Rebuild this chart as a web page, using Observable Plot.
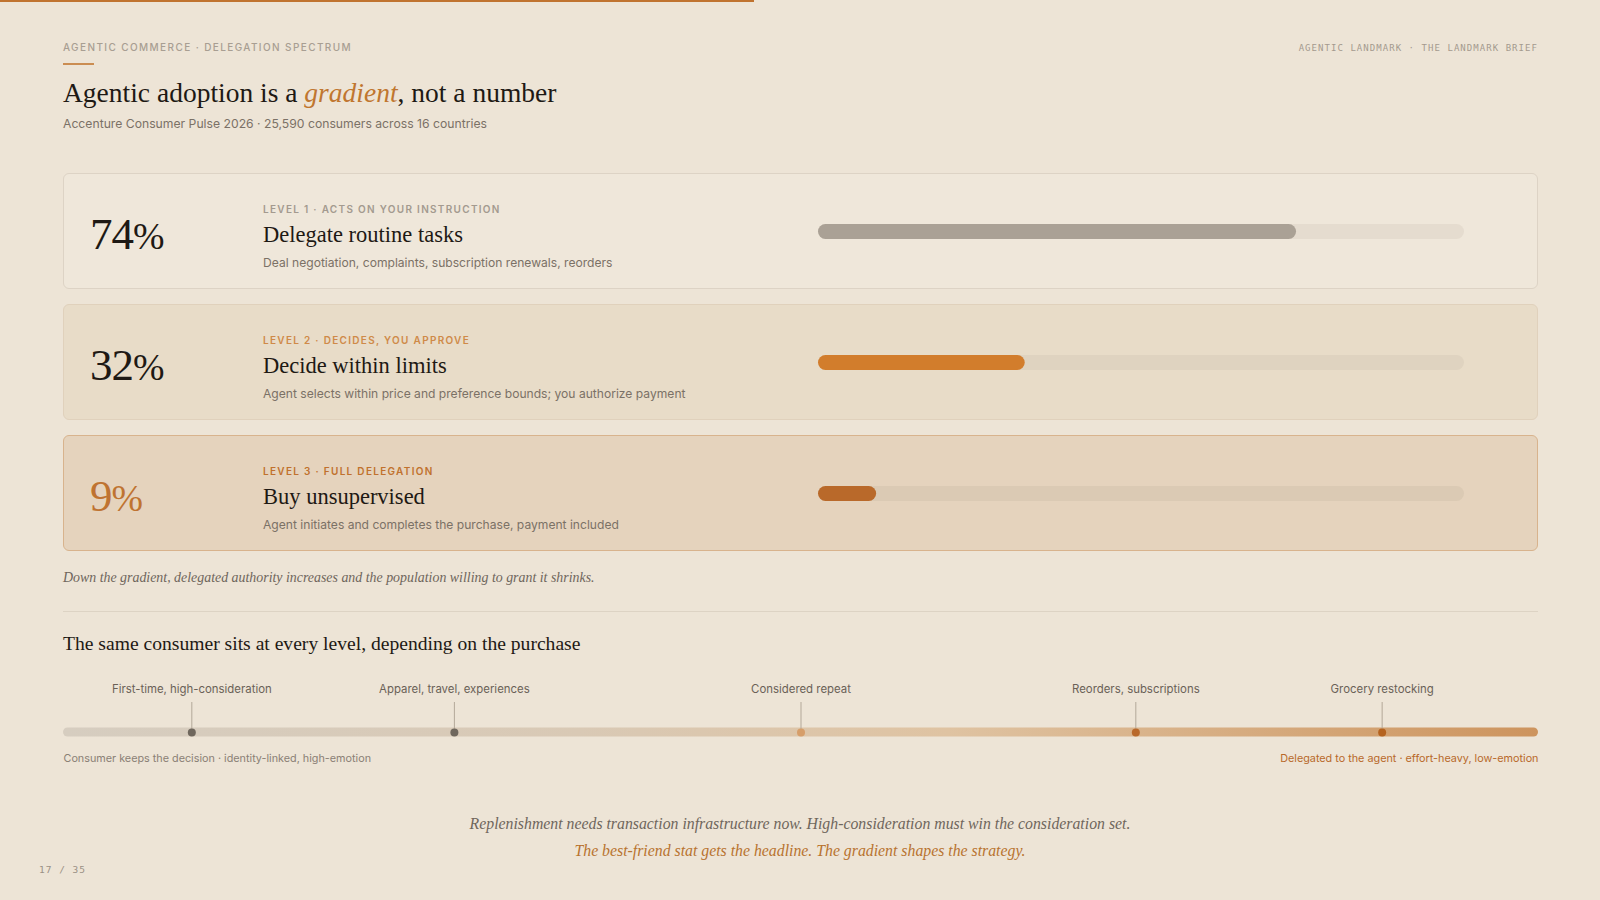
<!DOCTYPE html>
<html><head><meta charset="utf-8">
<script src="https://cdn.jsdelivr.net/npm/d3@7"></script>
<script src="https://cdn.jsdelivr.net/npm/@observablehq/plot@0.6"></script>
<style>
html,body{margin:0;padding:0;}
body{width:1600px;height:900px;background:#ede4d6;position:relative;overflow:hidden;font-family:Inter,"Noto Sans",sans-serif;}
.abs{position:absolute;white-space:nowrap;}
.topbar{left:0;top:0;width:754px;height:2px;background:#c0732f;}
.eyebrow{left:63px;top:41px;font-size:10px;letter-spacing:1.4px;font-weight:500;color:#a89e92;line-height:12px}
.rule{left:63px;top:63px;width:31px;height:2px;background:#cb8d52}
.title{left:63px;top:75px;font-family:"Liberation Serif",serif;font-size:27.5px;color:#1e1914;line-height:36px}
.title em{color:#c0762f}
.sub{left:63px;top:116px;font-size:12.2px;color:#7b7166;line-height:16px}
.brand{right:62px;top:42px;font-family:"DejaVu Sans Mono",monospace;font-size:9px;letter-spacing:1.05px;color:#a49a8e;line-height:12px}
.card{position:absolute;left:63px;width:1475px;height:116px;box-sizing:border-box;border:1px solid;border-radius:6px;}
.num{position:absolute;left:26px;top:35px;font-family:"Liberation Serif",serif;font-size:45px;letter-spacing:-1px;line-height:51px;white-space:nowrap}
.num .pct{font-size:0.84em;letter-spacing:0}
.tag{position:absolute;left:199px;top:29px;font-size:10px;letter-spacing:1.3px;font-weight:600;line-height:12px;white-space:nowrap}
.head{position:absolute;left:199px;top:47px;font-family:"Liberation Serif",serif;font-size:22.5px;color:#1e1914;line-height:28px;white-space:nowrap}
.desc{position:absolute;left:199px;top:81px;font-size:12.1px;color:#7b7166;line-height:16px;white-space:nowrap}
.bar{position:absolute;left:754px;top:50px;}
.caption{left:63px;top:569px;font-family:"Liberation Serif",serif;font-style:italic;font-size:13.9px;color:#6f665c;line-height:18px}
.divider{left:63px;top:611px;width:1475px;height:1px;background:#ddd3c4}
.section{left:63px;top:632px;font-family:"Liberation Serif",serif;font-size:19.6px;color:#1e1914;line-height:24px}
.spec{left:0;top:672px}
.close1{left:0;width:1600px;text-align:center;top:814px;font-family:"Liberation Serif",serif;font-style:italic;font-size:15.8px;color:#6f665c;line-height:20px}
.close2{left:0;width:1600px;text-align:center;top:841px;font-family:"Liberation Serif",serif;font-style:italic;font-size:15.8px;color:#b8732f;line-height:20px}
.page{left:39px;top:864px;font-family:"DejaVu Sans Mono",monospace;font-size:9.5px;letter-spacing:1px;color:#9a9085;line-height:12px}
</style>
</head>
<body>
<script>
// ---- data ----
const levelTags = ["LEVEL 1 · ACTS ON YOUR INSTRUCTION", "LEVEL 2 · DECIDES, YOU APPROVE", "LEVEL 3 · FULL DELEGATION"];
const levelTitles = ["Delegate routine tasks", "Decide within limits", "Buy unsupervised"];
const levelDescs = [
  "Deal negotiation, complaints, subscription renewals, reorders",
  "Agent selects within price and preference bounds; you authorize payment",
  "Agent initiates and completes the purchase, payment included"
];
const levelShares = [74, 32, 9];
const shareMax = 100;

const purchaseTypes = ["First-time, high-consideration", "Apparel, travel, experiences", "Considered repeat", "Reorders, subscriptions", "Grocery restocking"];
const delegationPosition = [8.7, 26.5, 50, 72.7, 89.4];
const spectrumEnds = ["Consumer keeps the decision · identity-linked, high-emotion", "Delegated to the agent · effort-heavy, low-emotion"];

// ---- styles ----
const cardBg = ["#efe7da", "#e8dcc8", "#e5d3bd"];
const cardBorder = ["#ddd3c5", "#e0d1bc", "#d8b38d"];
const numColor = ["#1e1914", "#1e1914", "#bf7331"];
const tagColor = ["#a39a8f", "#cf8a48", "#c0712d"];
const trackColor = ["#e5dccf", "#dfd3c0", "#dbcab4"];
const barColor = ["#aaa195", "#d27d2c", "#b9692a"];
const dotColor = ["#6f675d", "#6f675d", "#d69e6a", "#b9692b", "#b5631f"];

function el(tag, cls, html, parent) {
  const e = document.createElement(tag);
  if (cls) e.className = cls;
  if (html != null) e.innerHTML = html;
  (parent || document.body).appendChild(e);
  return e;
}

el("div", "abs topbar");
el("div", "abs eyebrow", "AGENTIC COMMERCE · DELEGATION SPECTRUM");
el("div", "abs rule");
el("div", "abs title", "Agentic adoption is a <em>gradient</em>, not a number");
el("div", "abs sub", "Accenture Consumer Pulse 2026 · 25,590 consumers across 16 countries");
el("div", "abs brand", "AGENTIC LANDMARK · THE LANDMARK BRIEF");

const cardTops = [173, 304, 435];
levelShares.forEach((share, i) => {
  const card = el("div", "card");
  card.style.top = cardTops[i] + "px";
  card.style.background = cardBg[i];
  card.style.borderColor = cardBorder[i];
  const n = el("div", "num", share + '<span class="pct">%</span>', card);
  n.style.color = numColor[i];
  const t = el("div", "tag", levelTags[i], card);
  t.style.color = tagColor[i];
  el("div", "head", levelTitles[i], card);
  el("div", "desc", levelDescs[i], card);
  const holder = el("div", "bar", null, card);
  const p = Plot.plot({
    width: 646, height: 15, margin: 0,
    x: {domain: [0, shareMax], axis: null},
    style: {background: "transparent", overflow: "visible"},
    marks: [
      Plot.barX([shareMax], {x1: 0, x2: d => d, fill: trackColor[i], rx: 7.5}),
      Plot.barX([share], {x1: 0, x2: d => d, fill: barColor[i], rx: 7.5})
    ]
  });
  holder.appendChild(p);
});

el("div", "abs caption", "Down the gradient, delegated authority increases and the population willing to grant it shrinks.");
el("div", "abs divider");
el("div", "abs section", "The same consumer sits at every level, depending on the purchase");

const points = purchaseTypes.map((name, i) => ({name, pos: delegationPosition[i], color: dotColor[i]}));
const spec = Plot.plot({
  width: 1600, height: 120,
  marginLeft: 63, marginRight: 62, marginTop: 0, marginBottom: 0,
  x: {domain: [0, 100], axis: null},
  style: {background: "transparent", overflow: "visible", fontFamily: "Inter, sans-serif"},
  marks: [
    Plot.barX([100], {x1: 0, x2: d => d, fill: "url(#specGrad)", rx: 4.5, insetTop: 55.5, insetBottom: 55.5}),
    Plot.ruleX(points, {x: "pos", stroke: "#b3a899", strokeWidth: 1, insetTop: 30, insetBottom: 62}),
    Plot.dot(points, {x: "pos", r: 4, fill: "color", stroke: null}),
    Plot.text(points, {x: "pos", text: "name", dy: -43, fontSize: 11.4, fill: "#6a6157"}),
    Plot.text([spectrumEnds[0]], {x: 0, text: d => d, dy: 26, textAnchor: "start", fontSize: 10.8, fill: "#8a8075"}),
    Plot.text([spectrumEnds[1]], {x: 100, text: d => d, dy: 26, textAnchor: "end", fontSize: 10.8, fill: "#b8692a"})
  ]
});
d3.select(spec).insert("defs", ":first-child").html(
  '<linearGradient id="specGrad" x1="0" x2="1" y1="0" y2="0">' +
  '<stop offset="0" stop-color="#d6cdc0"/><stop offset="0.35" stop-color="#d9c9b5"/>' +
  '<stop offset="0.6" stop-color="#dfc3a2"/><stop offset="1" stop-color="#cd945e"/></linearGradient>');
const specHolder = el("div", "abs spec");
specHolder.appendChild(spec);

el("div", "abs close1", "Replenishment needs transaction infrastructure now. High-consideration must win the consideration set.");
el("div", "abs close2", "The best-friend stat gets the headline. The gradient shapes the strategy.");
el("div", "abs page", "17 / 35");
</script>
</body></html>
